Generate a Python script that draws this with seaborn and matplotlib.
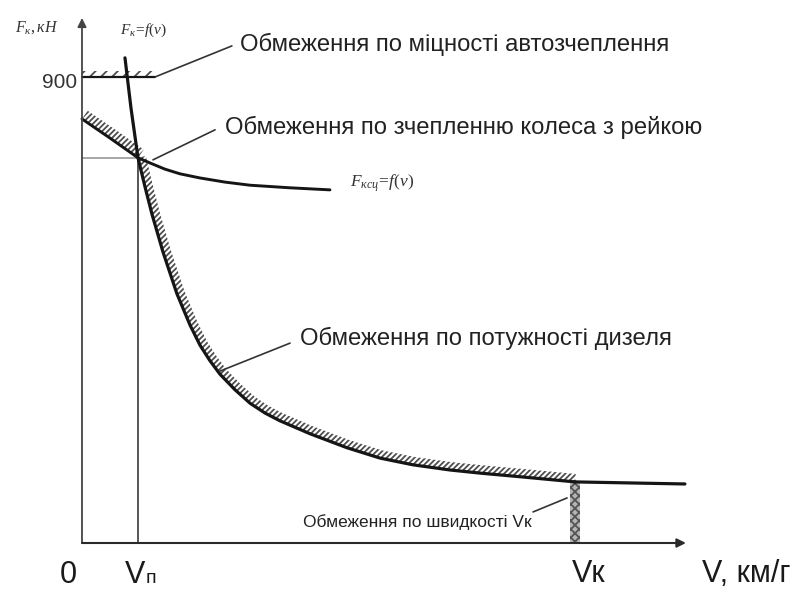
import numpy as np
import pandas as pd
import matplotlib
matplotlib.use("Agg")
import matplotlib.pyplot as plt
import seaborn as sns

# Traction characteristic of a diesel locomotive: F (kN) against V (km/h)
V_N = 11.36     # speed at which adhesion limit meets the power curve
V_K = 100.0     # design (maximum) speed
F_COUPLER = 900  # coupler strength limit, kN
V_COUPLER_END = 14.8

# Tractive effort by diesel power, F = f(v)
v_power = [8.72, 9.94, 11.36, 12.78, 14.20, 16.43, 19.27, 21.91, 23.94,
           25.96, 27.99, 31.03, 34.08, 37.12, 40.16, 46.25, 53.75, 60.45,
           67.14, 74.65, 80.73, 88.84, 100.0]
f_power = [937, 840, 744, 688, 635, 562, 481, 421, 382,
           352, 326, 296, 270, 251, 236, 211, 184, 164,
           151, 141, 135, 128, 118]

# Adhesion limit, F_adh = f(v)
v_adh = [0.0, 5.68, 11.36, 13.79, 16.84, 19.88, 23.94, 29.01, 34.08,
         42.19, 50.30]
f_adh = [819, 782, 744, 734, 722, 713, 705, 697, 691, 686, 682]

# Constant-force part beyond the design speed
v_flat = [100.0, 122.3]
f_flat = [118, 114]

sns.set_theme(style="white")
plt.rcParams["font.family"] = ["Liberation Sans", "DejaVu Sans"]
plt.rcParams["mathtext.fontset"] = "custom"
plt.rcParams["mathtext.it"] = "Liberation Serif:italic"
plt.rcParams["mathtext.rm"] = "Liberation Serif"
plt.rcParams["hatch.linewidth"] = 1.3

fig = plt.figure(figsize=(8.06, 5.91), dpi=100)
ax = fig.add_axes([0, 0, 1, 1])
ax.set_xlim(-16.63, 146.86)
ax.set_ylim(-92.7, 1048.7)
ax.axis("off")

INK = "#151515"
HATCH = "#4d4d4d"


def hatch_band(v, f, width_px, hatch="//////", color=HATCH):
    """Hatched strip along the outer side of a limiting curve."""
    pts = ax.transData.transform(np.column_stack([v, f]))
    d = np.gradient(pts, axis=0)
    d /= np.linalg.norm(d, axis=1, keepdims=True)
    normal = np.column_stack([-d[:, 1], d[:, 0]])
    outer = pts + normal * width_px
    poly = ax.transData.inverted().transform(np.vstack([pts, outer[::-1]]))
    ax.fill(poly[:, 0], poly[:, 1], facecolor="none", edgecolor=color,
            hatch=hatch, linewidth=0)


# Axes with arrows
ax.annotate("", xy=(0, 1014), xytext=(0, 0),
            arrowprops=dict(arrowstyle="-|>", color="#444444", lw=1.3,
                            mutation_scale=13, shrinkA=0, shrinkB=0))
ax.annotate("", xy=(122.5, 0), xytext=(0, 0),
            arrowprops=dict(arrowstyle="-|>", color="#2a2a2a", lw=1.5,
                            mutation_scale=13, shrinkA=0, shrinkB=0))

# Reference lines at V_N
ax.plot([0, V_N], [744, 744], color="#a0a0a0", lw=1.3)
ax.plot([V_N, V_N], [0, 744], color="#3a3a3a", lw=1.2)

# Coupler strength limit
ax.plot([0, V_COUPLER_END], [F_COUPLER, F_COUPLER], color=INK, lw=1.6)
hatch_band([0, V_COUPLER_END], [F_COUPLER, F_COUPLER], 6, hatch="///")

# Curves
power_df = pd.DataFrame({"v": v_power, "f": f_power})
adh_df = pd.DataFrame({"v": v_adh, "f": f_adh})
sns.lineplot(data=power_df, x="v", y="f", ax=ax, color=INK, lw=2.3,
             sort=False, estimator=None)
sns.lineplot(data=adh_df, x="v", y="f", ax=ax, color=INK, lw=2.1,
             sort=False, estimator=None)
sns.lineplot(x=v_flat, y=f_flat, ax=ax, color=INK, lw=2.3,
             sort=False, estimator=None)

# Hatching along the working boundary
i0 = v_power.index(V_N)
hatch_band(v_power[i0:], f_power[i0:], 8)
hatch_band(v_adh[:3], f_adh[:3], 10)

# Speed limit at V_K
ax.fill_betweenx([0, f_power[-1]], V_K - 1.0, V_K + 1.0,
                 facecolor="#b5b5b5", edgecolor="#555555", hatch="xxxx",
                 linewidth=0)

# Leader lines and captions
leaders = [((14.8, 900), (30.4, 960)),
           ((14.4, 740), (27.0, 798)),
           ((28.0, 332), (42.2, 386)),
           ((91.5, 60), (98.4, 87))]
for (x0, y0), (x1, y1) in leaders:
    ax.plot([x0, x1], [y0, y1], color="#333333", lw=1.2)

cap = dict(fontsize=17.2, color="#222222", va="center")
ax.text(32.0, 962, "Обмеження по міцності автозчеплення", ha="left", **cap)
ax.text(29.0, 803, "Обмеження по зчепленню колеса з рейкою", ha="left", **cap)
ax.text(44.2, 396, "Обмеження по потужності дизеля", ha="left", **cap)
ax.text(91.2, 41, "Обмеження по швидкості Vк", ha="right", va="center",
        fontsize=12.5, color="#222222")

# Curve names
ax.text(7.7, 991, r"$F_к\!=\!f(v)$", fontsize=11, color="#333333", va="center")
ax.text(54.4, 695, r"$F_{ксц}\!=\!f(v)$", fontsize=12.5, color="#333333",
        va="center")
ax.text(-13.6, 995, r"$F_к,кН$", fontsize=11.5, color="#333333", va="center")

# Axis labels
ax.text(-1.0, 890, "900", fontsize=15, color="#333333", ha="right",
        va="center")
big = dict(fontsize=22, color="#1a1a1a", va="center")
ax.text(-2.8, -62, "0", ha="center", **big)
ax.text(V_N - 0.6, -62, "V", ha="center", **big)
ax.text(V_N + 1.6, -68, "п", ha="left", fontsize=14, color="#1a1a1a",
        va="center")
ax.text(V_K + 2.8, -60, "Vк", ha="center", **big)
ax.text(125.8, -60, "V, км/г", ha="left", **big)

fig.savefig("out.png", dpi=100)
